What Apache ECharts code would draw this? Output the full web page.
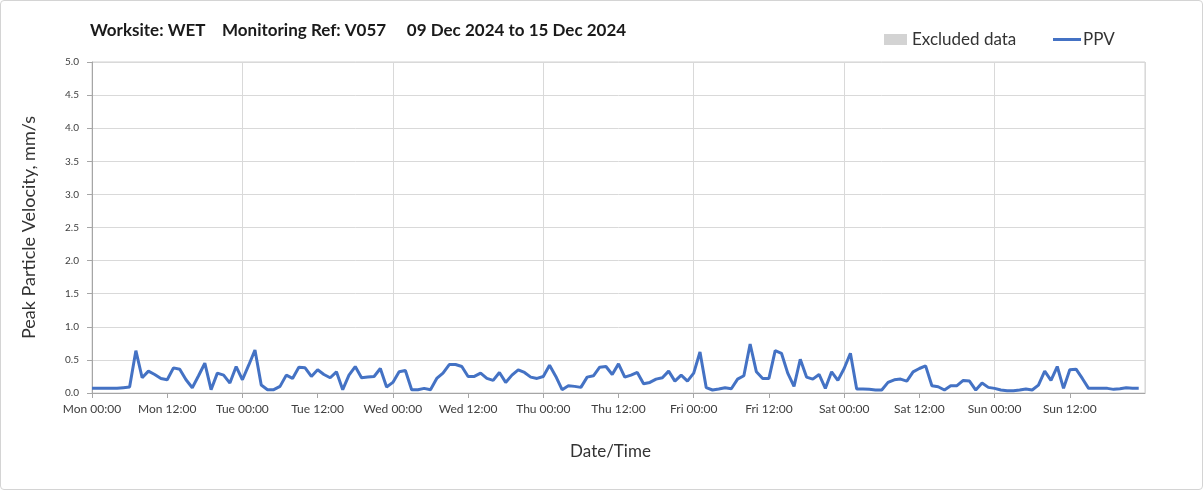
<!DOCTYPE html>
<html>
<head>
<meta charset="utf-8">
<script src="https://cdn.jsdelivr.net/npm/echarts@6/dist/echarts.min.js"></script>
<style>
html,body{margin:0;padding:0;background:#fff;}
#wrap{width:1203px;height:490px;box-sizing:border-box;border:1px solid #d4d4d4;border-radius:4px;position:relative;overflow:hidden;}
#chart{position:absolute;left:-1px;top:-1px;width:1203px;height:490px;}
</style>
</head>
<body>
<div id="wrap"><div id="chart"></div></div>
<script>
// Tick labels
const dayNames = ['Mon', 'Tue', 'Wed', 'Thu', 'Fri', 'Sat', 'Sun'];
const halfDayLabels = ['00:00', '12:00'];
// Hourly PPV (mm/s), one array per day, starting Mon 09 Dec 2024 00:00
const ppvMon = [0.07,0.07,0.07,0.07,0.07,0.08,0.09,0.64,0.23,0.33,0.28,0.22,0.20,0.38,0.36,0.20,0.08,0.26,0.45,0.05,0.30,0.27,0.15,0.40];
const ppvTue = [0.20,0.42,0.65,0.12,0.05,0.05,0.10,0.27,0.22,0.39,0.38,0.25,0.35,0.28,0.23,0.32,0.05,0.27,0.40,0.23,0.24,0.25,0.37,0.09];
const ppvWed = [0.16,0.32,0.34,0.05,0.05,0.07,0.05,0.22,0.30,0.43,0.43,0.40,0.25,0.25,0.30,0.22,0.19,0.31,0.16,0.27,0.35,0.31,0.24,0.22];
const ppvThu = [0.25,0.42,0.25,0.05,0.11,0.10,0.085,0.24,0.26,0.39,0.40,0.28,0.44,0.24,0.27,0.31,0.14,0.16,0.21,0.23,0.33,0.18,0.27,0.18];
const ppvFri = [0.30,0.62,0.08,0.045,0.06,0.08,0.065,0.21,0.26,0.74,0.32,0.22,0.22,0.64,0.60,0.30,0.10,0.51,0.24,0.21,0.28,0.07,0.32,0.19];
const ppvSat = [0.37,0.60,0.06,0.06,0.055,0.045,0.045,0.16,0.20,0.21,0.18,0.32,0.37,0.41,0.11,0.095,0.045,0.11,0.11,0.19,0.18,0.045,0.15,0.085];
const ppvSun = [0.07,0.045,0.035,0.035,0.045,0.06,0.045,0.12,0.33,0.19,0.40,0.07,0.35,0.36,0.22,0.07,0.07,0.07,0.07,0.055,0.065,0.08,0.07,0.07];

const ppv = [].concat(ppvMon, ppvTue, ppvWed, ppvThu, ppvFri, ppvSat, ppvSun);
const ppvData = ppv.map((v, i) => [i, v]);

const FONT = 'Lato, "Open Sans", sans-serif';
const chart = echarts.init(document.getElementById('chart'), null, {renderer: 'canvas'});
chart.setOption({
  animation: false,
  title: {
    text: 'Worksite: WET    Monitoring Ref: V057     09 Dec 2024 to 15 Dec 2024',
    left: 85, top: 17,
    textStyle: {fontFamily: FONT, fontSize: 17, fontWeight: 'bold', color: '#1a1a1a'}
  },
  legend: [
    {data: [{name: 'Excluded data', icon: 'rect'}], left: 879, top: 26, itemWidth: 23, itemHeight: 11,
     textStyle: {fontFamily: FONT, fontSize: 17, color: '#333'}},
    {data: [{name: 'PPV', icon: 'path://M0,0H28V3H0Z'}], left: 1048, top: 26, itemWidth: 28, itemHeight: 3,
     textStyle: {fontFamily: FONT, fontSize: 17, color: '#333', padding: [0, 0, 0, -3]}}
  ],
  grid: {left: 92, right: 58, top: 62, bottom: 97, show: true, borderColor: '#d0d0d0', borderWidth: 1},
  xAxis: [{
    type: 'value', min: 0, max: 168, interval: 12,
    name: 'Date/Time', nameLocation: 'middle', nameGap: 50,
    nameTextStyle: {fontFamily: FONT, fontSize: 17, color: '#333', padding: [0, 16, 0, 0]},
    axisLine: {show: true, lineStyle: {color: '#a6a6a6', width: 1}},
    axisTick: {show: true, length: 5, lineStyle: {color: '#a6a6a6'}},
    axisLabel: {
      fontFamily: FONT, fontSize: 12, color: '#404040', margin: 10, showMaxLabel: false,
      formatter: v => dayNames[Math.floor(v / 24)] + ' ' + halfDayLabels[(v % 24) / 12]
    },
    splitLine: {show: false}
  }, {
    type: 'value', min: 0, max: 168, interval: 24, position: 'bottom',
    axisLine: {show: false}, axisTick: {show: false}, axisLabel: {show: false},
    splitLine: {show: true, lineStyle: {color: '#d9d9d9', width: 1}}
  }],
  yAxis: {
    type: 'value', min: 0, max: 5, interval: 0.5,
    name: 'Peak Particle Velocity, mm/s', nameLocation: 'middle', nameGap: 54,
    nameTextStyle: {fontFamily: FONT, fontSize: 18, color: '#333'},
    axisLine: {show: true, lineStyle: {color: '#a6a6a6', width: 1}},
    axisTick: {show: true, length: 5, lineStyle: {color: '#a6a6a6'}},
    axisLabel: {fontFamily: FONT, fontSize: 10, color: '#404040', margin: 13, formatter: v => v.toFixed(1)},
    splitLine: {show: true, lineStyle: {color: '#d9d9d9', width: 1}}
  },
  series: [
    {name: 'Excluded data', type: 'line', data: [], itemStyle: {color: '#d3d3d3'}, lineStyle: {color: '#d3d3d3'}},
    {name: 'PPV', type: 'line', data: ppvData, xAxisIndex: 0, symbol: 'none',
     lineStyle: {color: '#4472c4', width: 3}, itemStyle: {color: '#4472c4'}, z: 5}
  ]
});
</script>
</body>
</html>
